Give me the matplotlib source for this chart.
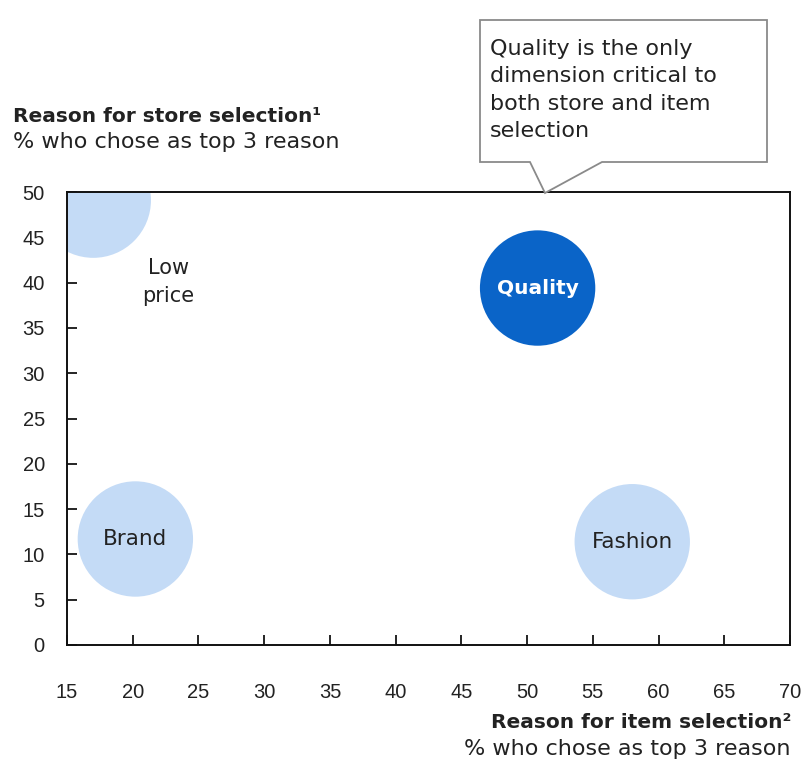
import matplotlib
matplotlib.use("Agg")
import matplotlib.pyplot as plt
from matplotlib.patches import Polygon

plt.rcParams['font.family'] = ['DejaVu Sans']

# Data
categories = ["Low price", "Quality", "Brand", "Fashion"]
item_selection = [17.0, 50.8, 20.2, 58.0]   # x: % reason for item selection
store_selection = [49.1, 39.4, 11.7, 11.4]  # y: % reason for store selection
highlight = [False, True, False, False]
x_ticks = [15, 20, 25, 30, 35, 40, 45, 50, 55, 60, 65, 70]
y_ticks = [0, 5, 10, 15, 20, 25, 30, 35, 40, 45, 50]

light = "#C4DBF6"
dark = "#0A64C8"
txt = "#222222"
FSB = 14.5   # bold text
FSR = 15.5   # regular text
FSC = 16     # callout / subtitles

W, H = 804, 765
fig = plt.figure(figsize=(W / 100, H / 100), dpi=100)
ax = fig.add_axes([67 / W, 1 - 645 / H, (790 - 67) / W, (645 - 192) / H])

colors = [dark if h else light for h in highlight]
ax.scatter(item_selection, store_selection, s=6900, c=colors, edgecolors='none',
           zorder=2, clip_on=True)

for name, x, y, h in zip(categories, item_selection, store_selection, highlight):
    if name == "Low price":
        ax.annotate("Low\nprice", (x, y), xytext=(54, -59), textcoords='offset points',
                    ha='center', va='center', fontsize=15, color=txt,
                    linespacing=1.5, zorder=3)
    elif h:
        ax.text(x, y, name, ha='center', va='center', fontsize=FSB,
                fontweight='bold', color='white', zorder=3)
    else:
        ax.text(x, y, name, ha='center', va='center', fontsize=FSR,
                color=txt, zorder=3)

ax.set_xlim(15, 70)
ax.set_ylim(0, 50)
ax.set_xticks(x_ticks)
ax.set_yticks(y_ticks)
ax.tick_params(axis='both', direction='in', length=7, width=1.2,
               colors='black', labelcolor=txt, labelsize=14.5,
               labelfontfamily='Liberation Sans')
ax.tick_params(axis='x', pad=27)
ax.tick_params(axis='y', pad=16)
for s in ax.spines.values():
    s.set_linewidth(1.4)
    s.set_color('#111111')

# Titles
fig.text(13 / W, 1 - 116 / H, "Reason for store selection¹", fontsize=FSB,
         fontweight='bold', color=txt, ha='left', va='center')
fig.text(13 / W, 1 - 142 / H, "% who chose as top 3 reason", fontsize=FSC,
         color=txt, ha='left', va='center')
fig.text(791 / W, 1 - 723 / H, "Reason for item selection²", fontsize=FSB,
         fontweight='bold', color=txt, ha='right', va='center')
fig.text(791 / W, 1 - 749 / H, "% who chose as top 3 reason", fontsize=FSC,
         color=txt, ha='right', va='center')

# Callout box
pts = [(480, 20), (767, 20), (767, 162), (602, 162), (545, 193), (530, 162), (480, 162)]
poly = Polygon([(px / W, 1 - py / H) for px, py in pts], closed=True,
               transform=fig.transFigure, facecolor='white', edgecolor='#8a8a8a',
               linewidth=1.3, zorder=5)
fig.add_artist(poly)
fig.text(490 / W, 1 - 90 / H,
         "Quality is the only\ndimension critical to\nboth store and item\nselection",
         fontsize=FSC, color=txt, ha='left', va='center', linespacing=1.45,
         zorder=6)

fig.savefig("out.png", dpi=100, facecolor='white')
